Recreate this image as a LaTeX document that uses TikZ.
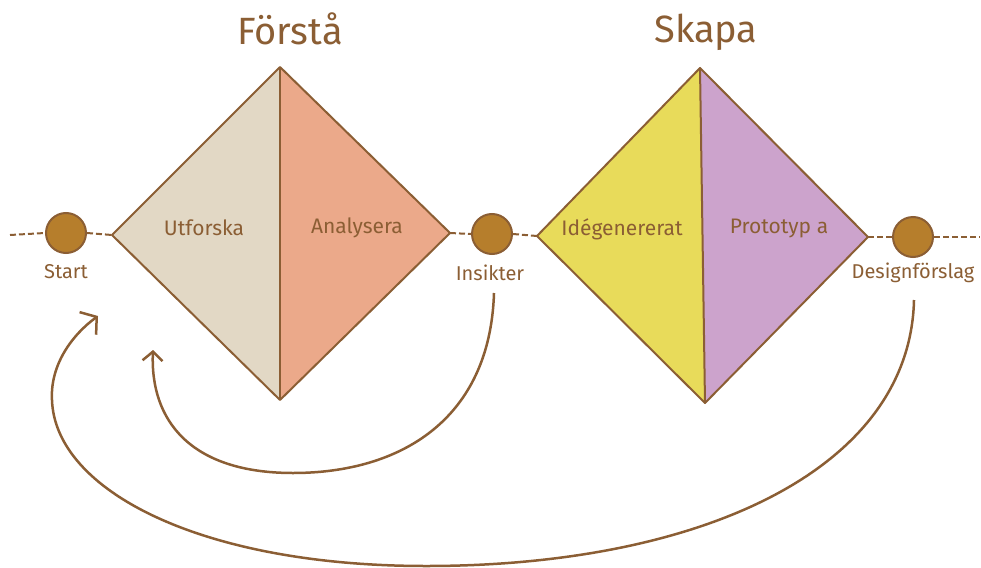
\documentclass[tikz,border=0pt]{standalone}
\usepackage{fontspec}
\setmainfont{Fira Sans}
\usetikzlibrary{arrows.meta}
\definecolor{ink}{RGB}{139,94,52}
\definecolor{dotfill}{RGB}{182,126,44}
\definecolor{cbeige}{RGB}{226,216,197}
\definecolor{csalmon}{RGB}{235,169,138}
\definecolor{cyellow}{RGB}{232,219,90}
\definecolor{clav}{RGB}{204,163,204}
\tikzset{
  half/.style={draw=ink, line width=2pt, line join=round},
  dot/.style={circle, draw=ink, line width=2pt, fill=dotfill, minimum size=40pt, inner sep=0pt},
  lbl/.style={text=ink, font=\fontsize{20}{22}\selectfont},
  inlbl/.style={text=ink, font=\fontsize{21}{23}\selectfont},
  ttl/.style={text=ink, font=\fontsize{38}{42}\selectfont},
  dline/.style={draw=ink, line width=2pt, dash pattern=on 6pt off 3pt},
  loop/.style={draw=ink, line width=2.5pt},
}
\begin{document}
\begin{tikzpicture}[x=1pt,y=-1pt]
\useasboundingbox (0,0) rectangle (981,567);
% diamond 1
\coordinate (d1l) at (112,235);
\coordinate (d1t) at (280,67);
\coordinate (d1r) at (450,233);
\coordinate (d1b) at (280,400);
\fill[cbeige] (d1t) -- (d1l) -- (d1b) -- cycle;
\fill[csalmon] (d1t) -- (d1r) -- (d1b) -- cycle;
\draw[half] (d1t) -- (d1l) -- (d1b) -- (d1r) -- cycle;
\draw[half] (d1t) -- (d1b);
% diamond 2
\coordinate (d2l) at (537,236);
\coordinate (d2t) at (700,68);
\coordinate (d2r) at (868,237);
\coordinate (d2b) at (705,403);
\fill[cyellow] (d2t) -- (d2l) -- (d2b) -- cycle;
\fill[clav] (d2t) -- (d2r) -- (d2b) -- cycle;
\draw[half] (d2t) -- (d2l) -- (d2b) -- (d2r) -- cycle;
\draw[half] (d2t) -- (d2b);
% titles
\node[ttl] (t1) at (290,29) {Förstå};
\node[ttl] (t2) at (706,32) {Skapa};
% inner labels
\node[inlbl] (u) at (204,228) {Utforska};
\node[inlbl] (a) at (357,228) {Analysera};
\node[inlbl] (i) at (622,229) {Idégenererat};
\node[inlbl] (p) at (779,228) {Prototyp a};
% dots
\node[dot] (start) at (66,233) {};
\node[dot] (ins) at (492,234) {};
\node[dot] (des) at (913,237) {};
\node[lbl] (startl) at (66,272) {Start};
\node[lbl] (insl) at (490,273) {Insikter};
\node[lbl] (desl) at (913,273) {Designförslag};
% dashed lines
\coordinate (e0) at (10,235);
\coordinate (e1) at (980,237);
\draw[dline] (e0) -- (start.west);
\draw[dline] (start.east) -- (d1l);
\draw[dline] (d1r) -- (ins.west);
\draw[dline] (ins.east) -- (d2l);
\draw[dline] (d2r) -- (des.west);
\draw[dline] (des.east) -- (e1);
% loops
\coordinate (tip1) at (153,350);
\coordinate (tip2) at (98,316);
\draw[loop, -{Straight Barb[length=9pt,width=20pt,line width=2.5pt]}]
  (494,293) .. controls (490,420) and (400,473) .. (293,473)
  .. controls (190,473) and (150,420) .. (tip1);
\draw[loop, -{Straight Barb[length=11pt,width=28pt,line width=2.5pt]}]
  (914,300) .. controls (910,470) and (700,566) .. (426,566)
  .. controls (200,566) and (55,490) .. (52,400)
  .. controls (50,365) and (72,335) .. (tip2);
\end{tikzpicture}
\end{document}
